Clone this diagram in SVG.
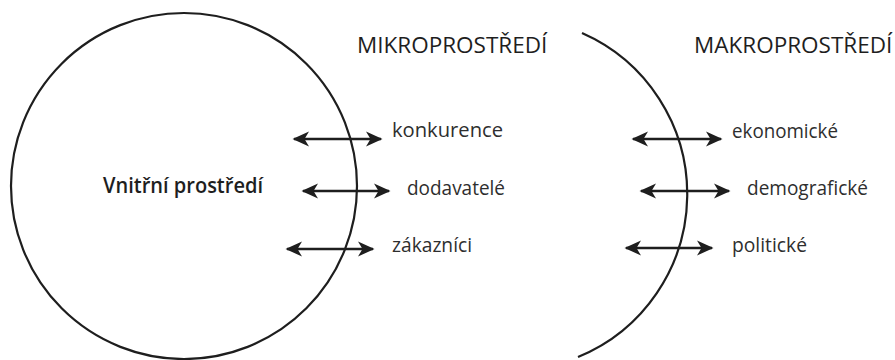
<svg xmlns="http://www.w3.org/2000/svg" width="895" height="360" viewBox="0 0 895 360">
<style>
.shape{fill:none;stroke:#1e1e1e;stroke-width:2.2}
.arr{stroke:#1e1e1e;stroke-width:2.6;fill:none;marker-start:url(#ah);marker-end:url(#ah)}
.lbl{font-family:"Open Sans","Noto Sans",sans-serif;font-size:20.5px;fill:#2e2e2e}
.head{font-family:"Open Sans","Noto Sans",sans-serif;font-size:22.5px;fill:#1e1e1e}
.inner{font-family:"Open Sans","Noto Sans",sans-serif;font-size:22px;font-weight:600;fill:#1e1e1e}
</style>
<defs>
<marker id="ah" viewBox="-18 -9 20 18" refX="0" refY="0" markerWidth="20" markerHeight="18" markerUnits="userSpaceOnUse" orient="auto-start-reverse">
<path d="M1.5,0 L-15,-7.5 L-10.5,0 L-15,7.5 Z" fill="#1e1e1e"/>
</marker>
</defs>
<g id="vnitrni">
<circle class="shape" cx="184" cy="186" r="173"/>
<text class="inner" x="103" y="193" textLength="160" lengthAdjust="spacingAndGlyphs">Vnitřní prostředí</text>
</g>
<g id="mikro">
<path class="shape" d="M582,33 A176,176 0 0 1 578,357"/>
<text class="head" x="357" y="53">MIKROPROSTŘEDÍ</text>
<text class="lbl" x="392" y="137" textLength="111" lengthAdjust="spacingAndGlyphs">konkurence</text>
<text class="lbl" x="407" y="195" textLength="98" lengthAdjust="spacingAndGlyphs">dodavatelé</text>
<text class="lbl" x="392" y="252" textLength="80" lengthAdjust="spacingAndGlyphs">zákazníci</text>
</g>
<g id="makro">
<text class="head" x="694" y="53">MAKROPROSTŘEDÍ</text>
<text class="lbl" x="732" y="138" textLength="106" lengthAdjust="spacingAndGlyphs">ekonomické</text>
<text class="lbl" x="747" y="195" textLength="121" lengthAdjust="spacingAndGlyphs">demografické</text>
<text class="lbl" x="732" y="252" textLength="75" lengthAdjust="spacingAndGlyphs">politické</text>
</g>
<g id="connectors">
<line class="arr" x1="294" y1="139" x2="381" y2="139"/>
<line class="arr" x1="303" y1="191" x2="389" y2="191"/>
<line class="arr" x1="287" y1="249" x2="373" y2="249"/>
<line class="arr" x1="633" y1="139" x2="721" y2="139"/>
<line class="arr" x1="641" y1="191" x2="729" y2="191"/>
<line class="arr" x1="626" y1="248" x2="712" y2="248"/>
</g>
</svg>
